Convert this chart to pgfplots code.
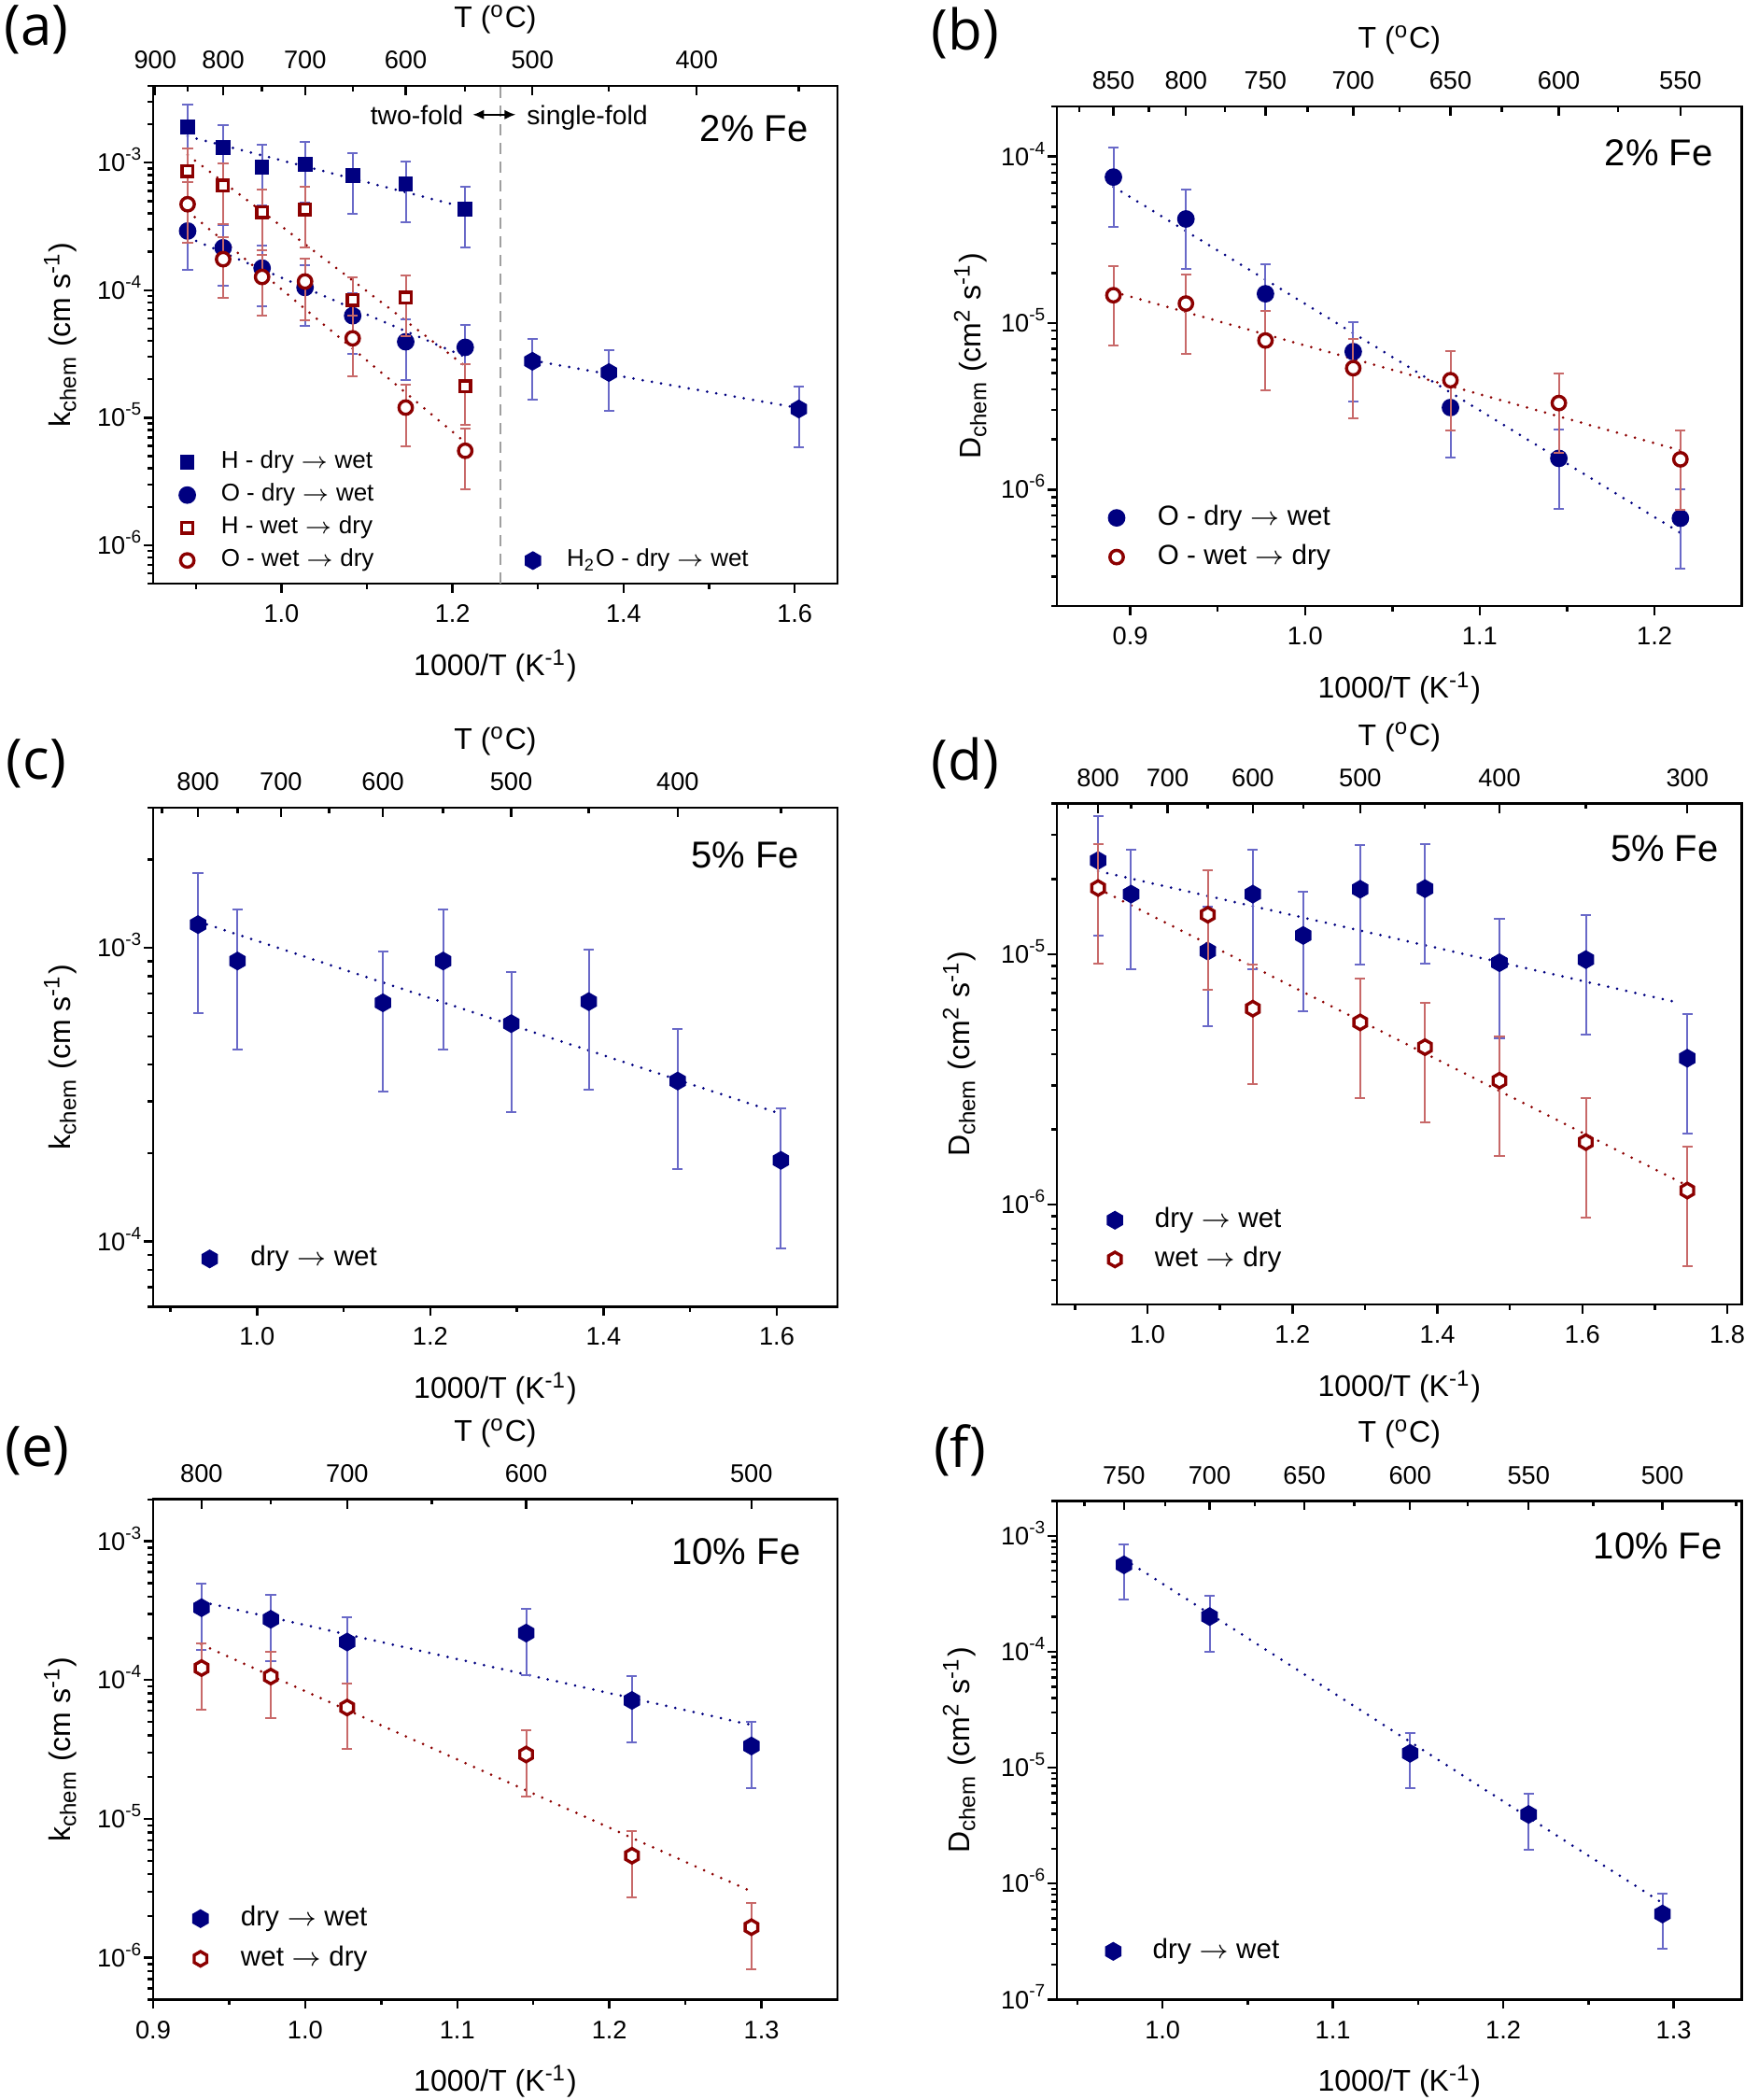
\documentclass[border=0pt]{standalone}
\usepackage{fontspec}
\setmainfont{Liberation Sans}
\newfontfamily\panelfont{Open Sans}
\usepackage{pgfplots}
\pgfplotsset{compat=1.18}
\usetikzlibrary{arrows.meta}

\definecolor{mnavy}{RGB}{0,0,128}
\definecolor{mred}{RGB}{140,0,0}
\definecolor{ebb}{RGB}{105,105,200}
\definecolor{ebr}{RGB}{200,105,105}

\newcommand\tickfont{\fontsize{6.8}{8}\selectfont}
\newcommand\labfont{\fontsize{8}{9.6}\selectfont}
\newcommand\fefont{\fontsize{10}{11}\selectfont}
\newcommand\annfont{\fontsize{7.1}{8}\selectfont}
\newcommand\pfont{\panelfont\fontsize{15}{17}\selectfont}

\pgfdeclareplotmark{hex*}{%
  \pgfpathmoveto{\pgfpointpolar{90}{\pgfplotmarksize}}%
  \pgfpathlineto{\pgfpointpolar{150}{\pgfplotmarksize}}%
  \pgfpathlineto{\pgfpointpolar{210}{\pgfplotmarksize}}%
  \pgfpathlineto{\pgfpointpolar{270}{\pgfplotmarksize}}%
  \pgfpathlineto{\pgfpointpolar{330}{\pgfplotmarksize}}%
  \pgfpathlineto{\pgfpointpolar{30}{\pgfplotmarksize}}%
  \pgfpathclose\pgfusepathqfillstroke}

\pgfplotsset{
  mainax/.style={
    scale only axis,
    axis line style={line width=0.7pt},
    tick style={black, line width=0.6pt},
    major tick length=2.5pt, minor tick length=1.4pt,
    tick align=outside, tick pos=left,
    xticklabel style={font=\tickfont, anchor=base, yshift=-7.9pt},
    yticklabel style={font=\tickfont, anchor=base east, yshift=-2.4pt, inner xsep=0pt},
    xlabel={1000/T (K\textsuperscript{-1})},
    xlabel style={font=\labfont, at={(rel axis cs:0.5,0)}, anchor=base, yshift=-24.6pt},
    clip mode=individual, legend cell align=left,
  },
  topax/.style={
    scale only axis, axis x line*=top, hide y axis, ymin=0, ymax=1,
    axis line style={line width=0.7pt},
    tick style={black, line width=0.6pt},
    major tick length=2.5pt, minor tick length=1.4pt,
    xtick align=inside,
    xticklabel style={font=\tickfont, anchor=base, yshift=4.57pt},
    xlabel={T (\textsuperscript{o}C)},
    xlabel style={font=\labfont, at={(rel axis cs:0.5,1)}, anchor=base, yshift=15.6pt},
  },
  legA/.style={legend style={draw=none, fill=none, anchor=north west, inner sep=0pt,
    font=\fontsize{6.5}{7}\selectfont, row sep=2.75pt,
    nodes={inner sep=0pt, text height=4.6pt, text depth=1.4pt}}},
  legB/.style={legend style={draw=none, fill=none, anchor=north west, inner sep=0pt,
    font=\fontsize{7.4}{8}\selectfont, row sep=3.6pt,
    nodes={inner sep=0pt, text height=5.3pt, text depth=1.6pt}}},
  ebB/.style={error bars/y dir=both, error bars/y fixed relative=0.5,
    error bars/error bar style={ebb, line width=0.5pt},
    error bars/error mark options={ebb, line width=0.5pt, mark size=1.4pt, rotate=90}},
  ebR/.style={error bars/y dir=both, error bars/y fixed relative=0.5,
    error bars/error bar style={ebr, line width=0.5pt},
    error bars/error mark options={ebr, line width=0.5pt, mark size=1.4pt, rotate=90}},
  fitB/.style={mnavy, line width=0.75pt, line cap=round, dash pattern=on 0pt off 2.5pt, forget plot},
  fitR/.style={mred, line width=0.75pt, line cap=round, dash pattern=on 0pt off 2.5pt, forget plot},
  sqB/.style={color=mnavy, only marks, mark=square*, mark size=1.75pt, mark options={fill=mnavy, draw=mnavy, line width=0.4pt}, ebB},
  ciB/.style={color=mnavy, only marks, mark=*, mark size=2.15pt, mark options={fill=mnavy, draw=mnavy, line width=0.4pt}, ebB},
  sqR/.style={color=mred, only marks, mark=square*, mark size=1.45pt, mark options={fill=white, draw=mred, line width=0.85pt}, ebR},
  ciR/.style={color=mred, only marks, mark=*, mark size=1.8pt, mark options={fill=white, draw=mred, line width=0.85pt}, ebR},
  hxB/.style={color=mnavy, only marks, mark=hex*, mark size=2.3pt, mark options={fill=mnavy, draw=mnavy, line width=0.4pt}, ebB},
  hxR/.style={color=mred, only marks, mark=hex*, mark size=1.95pt, mark options={fill=white, draw=mred, line width=0.85pt}, ebR},
}

\begin{document}
\begin{tikzpicture}
\path[use as bounding box] (0,0) rectangle (467pt,562.25pt);

% ---------------- (a) ----------------
\begin{axis}[mainax, ymode=log, at={(41pt,406pt)}, anchor=south west, width=183.25pt, height=133.25pt,
  xmin=0.85, xmax=1.65, ymin=5e-7, ymax=4e-3,
  xtick={1.0,1.2,1.4,1.6}, xticklabels={1.0,1.2,1.4,1.6}, minor xtick={0.9,1.1,1.3,1.5},
  ytick={1e-6,1e-5,1e-4,1e-3},
  yticklabels={10\textsuperscript{-6},10\textsuperscript{-5},10\textsuperscript{-4},10\textsuperscript{-3}},
  minor ytick={5e-7,6e-7,7e-7,8e-7,9e-7,2e-6,3e-6,4e-6,5e-6,6e-6,7e-6,8e-6,9e-6,2e-5,3e-5,4e-5,5e-5,6e-5,7e-5,8e-5,9e-5,2e-4,3e-4,4e-4,5e-4,6e-4,7e-4,8e-4,9e-4,2e-3,3e-3,4e-3},
  legA, legend style={at={(0.0371,0.2675)}, column sep=6.9pt}]
\addplot[gray!75, line width=0.5pt, dash pattern=on 3pt off 2pt, forget plot] coordinates {(1.256,5e-7) (1.256,4e-3)};
\addplot[fitB] coordinates {(0.89035,1.61e-3) (1.21485,4.45e-4)};
\addplot[fitB] coordinates {(0.89035,2.6e-4) (1.21485,3.0e-5)};
\addplot[fitR] coordinates {(0.89035,1.15e-3) (1.21485,2.54e-5)};
\addplot[fitR] coordinates {(0.89035,4.17e-4) (1.21485,6.4e-6)};
\addplot[sqB] coordinates {(0.89035,1.91e-3) (0.93184,1.32e-3) (0.97737,9.25e-4) (1.02759,9.7e-4) (1.08325,7.9e-4) (1.14528,6.8e-4) (1.21485,4.3e-4)};
\addlegendentry{H - dry $\rightarrow$ wet}
\addplot[ciB] coordinates {(0.89035,2.91e-4) (0.93184,2.15e-4) (0.97737,1.49e-4) (1.02759,1.05e-4) (1.08325,6.3e-5) (1.14528,3.94e-5) (1.21485,3.56e-5)};
\addlegendentry{O - dry $\rightarrow$ wet}
\addplot[sqR] coordinates {(0.89035,8.62e-4) (0.93184,6.61e-4) (0.97737,4.10e-4) (1.02759,4.30e-4) (1.08325,8.4e-5) (1.14528,8.73e-5) (1.21485,1.76e-5)};
\addlegendentry{H - wet $\rightarrow$ dry}
\addplot[ciR] coordinates {(0.89035,4.72e-4) (0.93184,1.75e-4) (0.97737,1.27e-4) (1.02759,1.17e-4) (1.08325,4.19e-5) (1.14528,1.20e-5) (1.21485,5.50e-6)};
\addlegendentry{O - wet $\rightarrow$ dry}
\node[anchor=base east, inner sep=0pt, font=\fefont] at (rel axis cs:0.958,0.8886) {2\% Fe};
\node[anchor=base east, inner sep=0pt, font=\annfont] at (axis cs:1.2135,1.99e-3) {two-fold};
\node[anchor=base west, inner sep=0pt, font=\annfont] at (axis cs:1.2860,1.99e-3) {single-fold};
\draw[{Latex[length=3pt,width=2.6pt]}-{Latex[length=3pt,width=2.6pt]}, line width=0.5pt] (axis cs:1.2236,2.38e-3) -- (axis cs:1.2739,2.38e-3);
\end{axis}
\begin{axis}[scale only axis, ymode=log, at={(41pt,406pt)}, anchor=south west, width=183.25pt, height=133.25pt,
  xmin=0.85, xmax=1.65, ymin=5e-7, ymax=4e-3, hide axis, clip mode=individual,
  legend cell align=left, legA, legend style={at={(0.543,0.0702)}, column sep=7.1pt}]
\addplot[fitB] coordinates {(1.29341,2.81e-5) (1.60475,1.19e-5)};
\addplot[hxB] coordinates {(1.29341,2.77e-5) (1.38284,2.26e-5) (1.60475,1.17e-5)};
\addlegendentry{H\textsubscript{2}O - dry $\rightarrow$ wet}
\end{axis}
\begin{axis}[topax, at={(41pt,406pt)}, anchor=south west, width=183.25pt, height=133.25pt,
  xmin=0.85, xmax=1.65,
  xtick={0.85240,0.93184,1.02759,1.14528,1.29341,1.48555}, xticklabels={900,800,700,600,500,400},
  minor xtick={0.89035,0.97737,1.08325,1.21485,1.38284,1.60475}]
\end{axis}
\node[font=\pfont] at (9.75pt,554.35pt) {(a)};
\node[font=\labfont, rotate=90, anchor=base] at (18.75pt,472.6pt) {k\textsubscript{chem} (cm s\textsuperscript{-1})};

% ---------------- (b) ----------------
\begin{axis}[mainax, ymode=log, at={(283pt,400pt)}, anchor=south west, width=183.4pt, height=133.75pt,
  xmin=0.858, xmax=1.25, ymin=2e-7, ymax=2e-4,
  xtick={0.9,1.0,1.1,1.2}, xticklabels={0.9,1.0,1.1,1.2}, minor xtick={0.95,1.05,1.15},
  ytick={1e-6,1e-5,1e-4},
  yticklabels={10\textsuperscript{-6},10\textsuperscript{-5},10\textsuperscript{-4}},
  minor ytick={2e-7,3e-7,4e-7,5e-7,6e-7,7e-7,8e-7,9e-7,2e-6,3e-6,4e-6,5e-6,6e-6,7e-6,8e-6,9e-6,2e-5,3e-5,4e-5,5e-5,6e-5,7e-5,8e-5,9e-5,2e-4},
  legB, legend style={at={(0.0744,0.2037)}, column sep=8.85pt}]
\addplot[fitB] coordinates {(0.89035,6.58e-5) (1.21485,5.5e-7)};
\addplot[fitR] coordinates {(0.89035,1.54e-5) (1.21485,1.72e-6)};
\addplot[ciB] coordinates {(0.89035,7.53e-5) (0.93184,4.22e-5) (0.97737,1.50e-5) (1.02759,6.74e-6) (1.08325,3.11e-6) (1.14528,1.54e-6) (1.21485,6.73e-7)};
\addlegendentry{O - dry $\rightarrow$ wet}
\addplot[ciR] coordinates {(0.89035,1.47e-5) (0.93184,1.31e-5) (0.97737,7.86e-6) (1.02759,5.36e-6) (1.08325,4.54e-6) (1.14528,3.31e-6) (1.21485,1.52e-6)};
\addlegendentry{O - wet $\rightarrow$ dry}
\node[anchor=base east, inner sep=0pt, font=\fefont] at (rel axis cs:0.9587,0.881) {2\% Fe};
\end{axis}
\begin{axis}[topax, at={(283pt,400pt)}, anchor=south west, width=183.4pt, height=133.75pt,
  xmin=0.858, xmax=1.25,
  xtick={0.89035,0.93184,0.97737,1.02759,1.08325,1.14528,1.21485}, xticklabels={850,800,750,700,650,600,550},
  minor xtick={0.87097,0.91063,0.95406,1.00155,1.05411,1.11253,1.17904}]
\end{axis}
\node[font=\pfont] at (258.5pt,553.3pt) {(b)};
\node[font=\labfont, rotate=90, anchor=base] at (262.5pt,466.9pt) {D\textsubscript{chem} (cm\textsuperscript{2} s\textsuperscript{-1})};

% ---------------- (c) ----------------
\begin{axis}[mainax, ymode=log, at={(41pt,212.4pt)}, anchor=south west, width=183.25pt, height=133.6pt,
  xmin=0.88, xmax=1.67, ymin=6e-5, ymax=3e-3,
  xtick={1.0,1.2,1.4,1.6}, xticklabels={1.0,1.2,1.4,1.6}, minor xtick={0.9,1.1,1.3,1.5},
  ytick={1e-4,1e-3},
  yticklabels={10\textsuperscript{-4},10\textsuperscript{-3}},
  minor ytick={6e-5,7e-5,8e-5,9e-5,2e-4,3e-4,4e-4,5e-4,6e-4,7e-4,8e-4,9e-4,2e-3,3e-3},
  legB, legend style={at={(0.0707,0.1231)}, column sep=8.95pt}]
\addplot[fitB] coordinates {(0.93184,1.23e-3) (1.60475,2.72e-4)};
\addplot[hxB] coordinates {(0.93184,1.20e-3) (0.97737,9.02e-4) (1.14528,6.50e-4) (1.21485,9.02e-4) (1.29341,5.52e-4) (1.38284,6.56e-4) (1.48555,3.52e-4) (1.60475,1.89e-4)};
\addlegendentry{dry $\rightarrow$ wet}
\node[anchor=base east, inner sep=0pt, font=\fefont] at (rel axis cs:0.945,0.879) {5\% Fe};
\end{axis}
\begin{axis}[topax, at={(41pt,212.4pt)}, anchor=south west, width=183.25pt, height=133.6pt,
  xmin=0.88, xmax=1.67,
  xtick={0.93184,1.02759,1.14528,1.29341,1.48555}, xticklabels={800,700,600,500,400},
  minor xtick={0.89035,0.97737,1.08325,1.21485,1.38284,1.60475}]
\end{axis}
\node[font=\pfont] at (9.75pt,357.8pt) {(c)};
\node[font=\labfont, rotate=90, anchor=base] at (18.75pt,279.2pt) {k\textsubscript{chem} (cm s\textsuperscript{-1})};

% ---------------- (d) ----------------
\begin{axis}[mainax, ymode=log, at={(283pt,213pt)}, anchor=south west, width=183.4pt, height=134.1pt,
  xmin=0.875, xmax=1.82, ymin=4e-7, ymax=4e-5,
  xtick={1.0,1.2,1.4,1.6,1.8}, xticklabels={1.0,1.2,1.4,1.6,1.8}, minor xtick={0.9,1.1,1.3,1.5,1.7},
  ytick={1e-6,1e-5},
  yticklabels={10\textsuperscript{-6},10\textsuperscript{-5}},
  minor ytick={4e-7,5e-7,6e-7,7e-7,8e-7,9e-7,2e-6,3e-6,4e-6,5e-6,6e-6,7e-6,8e-6,9e-6,2e-5,3e-5,4e-5},
  legB, legend style={at={(0.0728,0.1954)}, column sep=8.7pt}]
\addplot[fitB] coordinates {(0.93184,2.15e-5) (1.734,6.4e-6)};
\addplot[fitR] coordinates {(0.93184,1.83e-5) (1.738,1.22e-6)};
\addplot[hxB] coordinates {(0.93184,2.37e-5) (0.97737,1.74e-5) (1.08325,1.03e-5) (1.14528,1.74e-5) (1.21485,1.19e-5) (1.29341,1.82e-5) (1.38284,1.83e-5) (1.48555,9.26e-6) (1.60475,9.53e-6) (1.74475,3.85e-6)};
\addlegendentry{dry $\rightarrow$ wet}
\addplot[hxR] coordinates {(0.93184,1.84e-5) (1.08325,1.44e-5) (1.14528,6.07e-6) (1.29341,5.35e-6) (1.38284,4.26e-6) (1.48555,3.13e-6) (1.60475,1.78e-6) (1.74475,1.14e-6)};
\addlegendentry{wet $\rightarrow$ dry}
\node[anchor=base east, inner sep=0pt, font=\fefont] at (rel axis cs:0.967,0.884) {5\% Fe};
\end{axis}
\begin{axis}[topax, at={(283pt,213pt)}, anchor=south west, width=183.4pt, height=134.1pt,
  xmin=0.875, xmax=1.82,
  xtick={0.93184,1.02759,1.14528,1.29341,1.48555,1.74475}, xticklabels={800,700,600,500,400,300},
  minor xtick={0.89035,0.97737,1.08325,1.21485,1.38284,1.60475}]
\end{axis}
\node[font=\pfont] at (258.5pt,357.8pt) {(d)};
\node[font=\labfont, rotate=90, anchor=base] at (259.5pt,280.05pt) {D\textsubscript{chem} (cm\textsuperscript{2} s\textsuperscript{-1})};

% ---------------- (e) ----------------
\begin{axis}[mainax, ymode=log, at={(41pt,26.9pt)}, anchor=south west, width=183.25pt, height=133.9pt,
  xmin=0.9, xmax=1.35, ymin=5e-7, ymax=2e-3,
  xtick={0.9,1.0,1.1,1.2,1.3}, xticklabels={0.9,1.0,1.1,1.2,1.3}, minor xtick={0.95,1.05,1.15,1.25},
  ytick={1e-6,1e-5,1e-4,1e-3},
  yticklabels={10\textsuperscript{-6},10\textsuperscript{-5},10\textsuperscript{-4},10\textsuperscript{-3}},
  minor ytick={5e-7,6e-7,7e-7,8e-7,9e-7,2e-6,3e-6,4e-6,5e-6,6e-6,7e-6,8e-6,9e-6,2e-5,3e-5,4e-5,5e-5,6e-5,7e-5,8e-5,9e-5,2e-4,3e-4,4e-4,5e-4,6e-4,7e-4,8e-4,9e-4,2e-3},
  legB, legend style={at={(0.0573,0.189)}, column sep=8.8pt, row sep=3.85pt}]
\addplot[fitB] coordinates {(0.93184,3.66e-4) (1.29341,4.75e-5)};
\addplot[fitR] coordinates {(0.93184,1.80e-4) (1.29341,3.0e-6)};
\addplot[hxB] coordinates {(0.93184,3.32e-4) (0.97737,2.74e-4) (1.02759,1.88e-4) (1.14528,2.18e-4) (1.21485,7.13e-5) (1.29341,3.35e-5)};
\addlegendentry{dry $\rightarrow$ wet}
\addplot[hxR] coordinates {(0.93184,1.22e-4) (0.97737,1.06e-4) (1.02759,6.34e-5) (1.14528,2.91e-5) (1.21485,5.43e-6) (1.29341,1.66e-6)};
\addlegendentry{wet $\rightarrow$ dry}
\node[anchor=base east, inner sep=0pt, font=\fefont] at (rel axis cs:0.947,0.870) {10\% Fe};
\end{axis}
\begin{axis}[topax, at={(41pt,26.9pt)}, anchor=south west, width=183.25pt, height=133.9pt,
  xmin=0.9, xmax=1.35,
  xtick={0.93184,1.02759,1.14528,1.29341}, xticklabels={800,700,600,500},
  minor xtick={0.97737,1.08325,1.21485}]
\end{axis}
\node[font=\pfont] at (10pt,173.8pt) {(e)};
\node[font=\labfont, rotate=90, anchor=base] at (18.75pt,93.85pt) {k\textsubscript{chem} (cm s\textsuperscript{-1})};

% ---------------- (f) ----------------
\begin{axis}[mainax, ymode=log, at={(283pt,26.9pt)}, anchor=south west, width=183.4pt, height=133.5pt,
  xmin=0.938, xmax=1.34, ymin=1e-7, ymax=2e-3,
  xtick={1.0,1.1,1.2,1.3}, xticklabels={1.0,1.1,1.2,1.3}, minor xtick={0.95,1.05,1.15,1.25},
  ytick={1e-7,1e-6,1e-5,1e-4,1e-3},
  yticklabels={10\textsuperscript{-7},10\textsuperscript{-6},10\textsuperscript{-5},10\textsuperscript{-4},10\textsuperscript{-3}},
  minor ytick={2e-7,3e-7,4e-7,5e-7,6e-7,7e-7,8e-7,9e-7,2e-6,3e-6,4e-6,5e-6,6e-6,7e-6,8e-6,9e-6,2e-5,3e-5,4e-5,5e-5,6e-5,7e-5,8e-5,9e-5,2e-4,3e-4,4e-4,5e-4,6e-4,7e-4,8e-4,9e-4,2e-3},
  legB, legend style={at={(0.0703,0.124)}, column sep=8.6pt}]
\addplot[fitB] coordinates {(0.97737,6.3e-4) (1.29341,6.8e-7)};
\addplot[hxB] coordinates {(0.97737,5.62e-4) (1.02759,2.01e-4) (1.14528,1.33e-5) (1.21485,3.95e-6) (1.29341,5.47e-7)};
\addlegendentry{dry $\rightarrow$ wet}
\node[anchor=base east, inner sep=0pt, font=\fefont] at (rel axis cs:0.9725,0.8835) {10\% Fe};
\end{axis}
\begin{axis}[topax, at={(283pt,26.9pt)}, anchor=south west, width=183.4pt, height=133.5pt,
  xmin=0.938, xmax=1.34,
  xtick={0.97737,1.02759,1.08325,1.14528,1.21485,1.29341}, xticklabels={750,700,650,600,550,500},
  minor xtick={0.95406,1.00155,1.05411,1.11253,1.17904,1.25289,1.33663}]
\end{axis}
\node[font=\pfont] at (257pt,173.8pt) {(f)};
\node[font=\labfont, rotate=90, anchor=base] at (259.5pt,93.65pt) {D\textsubscript{chem} (cm\textsuperscript{2} s\textsuperscript{-1})};

\end{tikzpicture}
\end{document}
